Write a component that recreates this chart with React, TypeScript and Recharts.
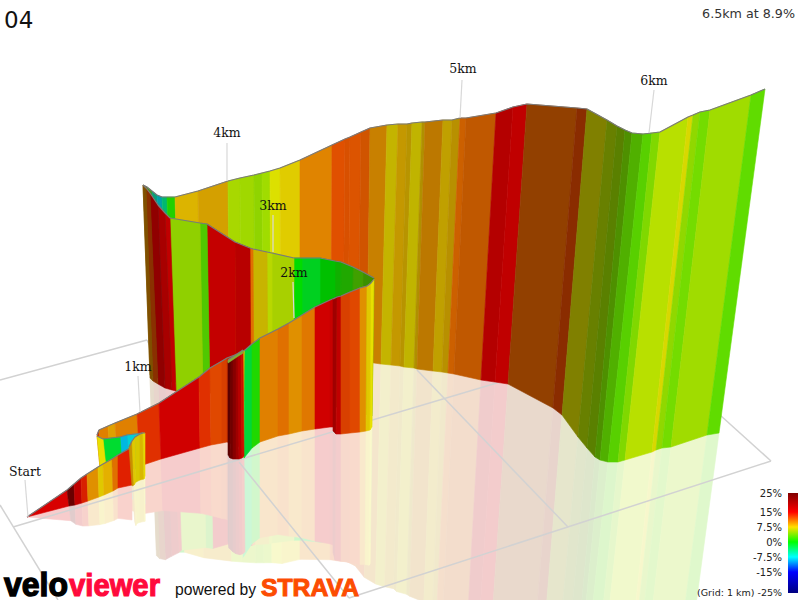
import React from "react";
import { ScatterChart, Scatter, XAxis, YAxis } from "recharts";

// The ribbon is a 3D projection, so every section is read off the picture as
// top and bottom edge points on an 800x600 plane.

const backTopX = [143, 147, 152, 157, 162, 167, 175, 198, 228, 240, 254, 262, 270, 280, 300, 332, 345, 350, 361, 370, 387, 398, 407, 412, 422, 425, 443, 452, 460, 466, 496, 513, 527, 577, 587, 607, 617, 625, 632, 643, 652, 660, 688, 693, 700, 710, 751, 765];
const backTopY = [185, 187, 191, 195, 197, 197, 197, 191, 181, 178, 175, 173, 171, 168, 160, 145, 139, 137, 132, 128, 125, 124, 124, 123, 122, 122, 120, 120, 118, 118, 113, 107, 104, 108, 109, 120, 126, 130, 133, 134, 133, 132, 117, 115, 112, 110, 95, 89];
const backBotX = [150, 153, 158, 163, 168, 172, 180, 201, 230, 241, 255, 263, 271, 281, 300, 331, 343, 348, 358, 367, 381, 391, 400, 404, 414, 417, 433, 442, 448, 454, 481, 495, 508, 553, 562, 578, 587, 595, 600, 608, 618, 625, 652, 656, 662, 671, 707, 719];
const backBotY = [375, 376, 378, 380, 381, 382, 382, 382, 379, 378, 377, 376, 375, 374, 368, 361, 359, 358, 358, 362, 364, 365, 366, 367, 368, 369, 371, 372, 373, 374, 380, 382, 384, 408, 415, 437, 448, 457, 460, 462, 462, 460, 452, 450, 448, 447, 435, 433];
const backColors = ["#8a6a00", "#40a010", "#08a078", "#00a0a8", "#00b870", "#20d000", "#dcb400", "#d4a000", "#a8d800", "#a0d800", "#90d400", "#a0dc00", "#dce000", "#e0cc00", "#e08400", "#e05000", "#d85000", "#dc5400", "#d05400", "#c88000", "#c4b400", "#c49800", "#b89400", "#c0b400", "#b09000", "#bc7800", "#c0a000", "#b89000", "#cc6000", "#c05800", "#b40000", "#c00000", "#924000", "#8a2c00", "#808000", "#688000", "#5a8000", "#4e9000", "#50b000", "#58d000", "#80d800", "#b8e000", "#d8d800", "#90d800", "#74dc00", "#a0dc00", "#60dc00"];

const hairpinTopX = [374, 363, 353, 341, 335, 320, 302, 294, 272, 267, 253, 250, 235, 207, 200, 170, 165, 158, 150, 146, 143];
const hairpinTopY = [278, 272, 267, 262, 261, 258, 258, 258, 253, 252, 249, 248, 242, 224, 223, 218, 213, 205, 193, 188, 185];
const hairpinBotX = [372, 361, 351, 340, 335, 320, 302, 294, 272, 268, 254, 251, 236, 210, 203, 176, 172, 165, 158, 153, 150];
const hairpinBotY = [416, 413, 410, 407, 407, 406, 405, 405, 404, 404, 403, 403, 398, 393, 392, 391, 390, 388, 384, 381, 378];
const hairpinColors = ["#3a9000", "#40a000", "#20a800", "#10b000", "#00c000", "#00d020", "#00dc00", "#a8d000", "#b8d800", "#c8b400", "#e07000", "#b80000", "#c40000", "#50c800", "#90d000", "#c00000", "#a80000", "#900000", "#8a3000", "#805000"];

const middleTopX = [97, 99, 108, 115, 137, 159, 199, 210, 222, 227, 240, 245, 252, 260, 278, 289, 302, 315, 330, 335];
const middleTopY = [435, 430, 426, 423, 414, 403, 377, 368, 361, 358, 353, 350, 344, 338, 329, 323, 315, 307, 300, 298];
const middleBotX = [100, 102, 111, 118, 140, 161, 200, 211, 222, 227, 240, 244, 252, 260, 278, 289, 302, 315, 330, 335];
const middleBotY = [468, 467, 467, 467, 466, 459, 448, 445, 443, 442, 447, 458, 448, 442, 436, 434, 431, 429, 427, 427];
const middleColors = ["#d03000", "#e08000", "#e0a000", "#e08000", "#e03000", "#d00000", "#e03000", "#e04800", "#d84000", "#c83000", "#e0c000", "#00d838", "#20d800", "#e08000", "#e07000", "#e09000", "#e07800", "#d00000", "#c80000"];

const nearTopX = [333, 337, 341, 350, 360, 367, 371, 374];
const nearTopY = [299, 297, 296, 292, 288, 286, 283, 279];
const nearBotX = [333, 336, 341, 350, 360, 366, 370, 372];
const nearBotY = [431, 434, 434, 433, 432, 431, 430, 427];
const nearColors = ["#a00000", "#c00000", "#d84000", "#e04800", "#e09000", "#e0c800", "#e8e000"];

const columnTopX = [228, 231, 233, 236, 238, 241, 243];
const columnTopY = [362, 360, 358, 356, 355, 354, 352];
const columnBotX = [228, 230, 233, 236, 239, 242, 244];
const columnBotY = [455, 458, 459, 459, 459, 458, 456];
const columnColors = ["#5a0000", "#700000", "#880000", "#a00000", "#b80000", "#c81000"];

const capTopX = [228, 243];
const capTopY = [360, 350];
const capBotX = [228, 243];
const capBotY = [363, 353];
const capColors = ["#80b030"];

const loopTopX = [143, 127, 120, 103, 97];
const loopTopY = [433, 435, 437, 439, 436];
const loopBotX = [144, 129, 122, 106, 100];
const loopBotY = [470, 468, 467, 467, 468];
const loopColors = ["#00d0d8", "#00b8e0", "#00dc30", "#e8e000"];

const startTopX = [27, 67, 74, 81, 87, 98, 103, 112, 118, 132];
const startTopY = [517, 490, 484, 478, 474, 467, 464, 459, 455, 447];
const startBotX = [27, 69, 75, 82, 88, 99, 104, 113, 118, 132];
const startBotY = [517, 506, 505, 503, 501, 497, 495, 491, 488, 485];
const startColors = ["#d80000", "#6a0000", "#c00000", "#d82000", "#e09000", "#e0c800", "#e4b000", "#e07000", "#e02000"];

const turnTopX = [129, 132, 135, 140, 143, 145];
const turnTopY = [447, 441, 437, 434, 433, 433];
const turnBotX = [132, 134, 136, 140, 144, 145];
const turnBotY = [486, 485, 482, 480, 479, 476];
const turnColors = ["#c89000", "#e0c800", "#d8c800", "#d8b800", "#e8d800"];

const sections = [
  [backTopX, backTopY, backBotX, backBotY, backColors],
  [hairpinTopX, hairpinTopY, hairpinBotX, hairpinBotY, hairpinColors],
  [middleTopX, middleTopY, middleBotX, middleBotY, middleColors],
  [nearTopX, nearTopY, nearBotX, nearBotY, nearColors],
  [columnTopX, columnTopY, columnBotX, columnBotY, columnColors],
  [capTopX, capTopY, capBotX, capBotY, capColors],
  [loopTopX, loopTopY, loopBotX, loopBotY, loopColors],
  [startTopX, startTopY, startBotX, startBotY, startColors],
  [turnTopX, turnTopY, turnBotX, turnBotY, turnColors],
] as [number[], number[], number[], number[], string[]][];

// grid lines on the floor: x1, y1, x2, y2
const gridX1 = [0, 147, 13, 0, 417, 239, 771, 771];
const gridY1 = [380, 340, 527, 505, 370, 462, 461, 461];
const gridX2 = [147, 152, 500, 58, 568, 349, 349, 720];
const gridY2 = [340, 350, 382, 600, 527, 598, 598, 415];

const kmLabels = ["Start", "1km", "2km", "3km", "4km", "5km", "6km"];
const kmLabelX = [25, 138, 294, 273, 227, 463, 654];
const kmLabelY = [476, 371, 277, 210, 137, 73, 85];
const stemTopX = [25, 138, 293, 273, 227, 462, 654];
const stemTopY = [480, 376, 282, 215, 143, 80, 90];
const stemBotX = [28, 140, 294, 273, 227, 460, 649];
const stemBotY = [517, 412, 318, 252, 181, 118, 133];

const legendLabels = ["25%", "15%", "7.5%", "0%", "-7.5%", "-15%", "(Grid: 1 km) -25%"];
const legendY = [493, 512, 527, 542, 557, 572, 592];
const legendStops = ["#800000", "#ff0000", "#ffe000", "#00ff00", "#00ffff", "#0000ff", "#000080"];
const legendOffsets = [0, 19, 34, 49, 64, 79, 100];

const REFLECTION = 0.92;

const noDot = () => null;

function polygon(key: string, pts: { x: number; y: number }[], fill: string, stroke = "none", extra: any = null) {
  return (
    <Scatter
      key={key}
      data={pts}
      shape={noDot}
      isAnimationActive={false}
      line={(p: any) => (
        <g>
          {extra}
          <polygon
            points={p.points.map((q: any) => `${q.x},${q.y}`).join(" ")}
            fill={fill}
            stroke={stroke}
            strokeWidth={0.6}
          />
        </g>
      )}
    />
  );
}

function polyline(key: string, pts: { x: number; y: number }[], stroke: string, width: number) {
  return (
    <Scatter
      key={key}
      data={pts}
      shape={noDot}
      isAnimationActive={false}
      line={(p: any) => (
        <polyline
          points={p.points.map((q: any) => `${q.x},${q.y}`).join(" ")}
          fill="none"
          stroke={stroke}
          strokeWidth={width}
          strokeLinejoin="round"
        />
      )}
    />
  );
}

function label(key: string, x: number, y: number, text: any, style: any) {
  return (
    <Scatter
      key={key}
      data={[{ x, y }]}
      isAnimationActive={false}
      shape={(p: any) => (
        <text x={p.cx} y={p.cy} {...style}>
          {text}
        </text>
      )}
    />
  );
}

export default function App() {
  const reflections: any[] = [];
  const ribbon: any[] = [];

  sections.forEach(([topX, topY, botX, botY, colors], s) => {
    colors.forEach((color, i) => {
      const mirror = (j: number) => ({
        x: botX[j] - (topX[j] - botX[j]) * REFLECTION,
        y: botY[j] + (botY[j] - topY[j]) * REFLECTION,
      });
      reflections.push(
        polygon(
          `m${s}-${i}`,
          [
            { x: botX[i], y: botY[i] },
            { x: botX[i + 1], y: botY[i + 1] },
            mirror(i + 1),
            mirror(i),
          ],
          color,
          color
        )
      );
      ribbon.push(
        polygon(
          `r${s}-${i}`,
          [
            { x: topX[i], y: topY[i] },
            { x: topX[i + 1], y: topY[i + 1] },
            { x: botX[i + 1], y: botY[i + 1] },
            { x: botX[i], y: botY[i] },
          ],
          color,
          color
        )
      );
    });
    ribbon.push(
      polyline(`e${s}`, topX.map((x, i) => ({ x, y: topY[i] })), "#7a7a7a", 1.2)
    );
  });

  return (
    <div style={{ position: "absolute", left: 0, top: 0, width: 800, height: 600, background: "#fff" }}>
      <ScatterChart width={800} height={600} margin={{ top: 0, right: 0, bottom: 0, left: 0 }}>
        <XAxis type="number" dataKey="x" domain={[0, 800]} hide allowDataOverflow />
        <YAxis type="number" dataKey="y" domain={[0, 600]} reversed hide allowDataOverflow />

        {reflections}
        {polygon(
          "fade",
          [
            { x: 0, y: 0 },
            { x: 800, y: 0 },
            { x: 800, y: 600 },
            { x: 0, y: 600 },
          ],
          "rgba(255,255,255,0.8)"
        )}

        {gridX1.map((x, i) =>
          polyline(`g${i}`, [{ x, y: gridY1[i] }, { x: gridX2[i], y: gridY2[i] }], "#d2d2d2", 1.5)
        )}

        {ribbon}

        {stemTopX.map((x, i) =>
          polyline(`s${i}`, [{ x, y: stemTopY[i] }, { x: stemBotX[i], y: stemBotY[i] }], "#d8d8d8", 1.2)
        )}
        {kmLabels.map((t, i) =>
          label(`k${i}`, kmLabelX[i], kmLabelY[i], t, {
            fontFamily: "DejaVu Serif",
            fontSize: 12.5,
            textAnchor: "middle",
            fill: "#111",
          })
        )}

        {label("title", 4, 28, "04", { fontFamily: "DejaVu Sans", fontSize: 23, fill: "#111" })}
        {label("best", 795, 18, "6.5km at 8.9%", {
          fontFamily: "DejaVu Sans",
          fontSize: 12.7,
          textAnchor: "end",
          fill: "#333",
        })}

        {polygon(
          "bar",
          [
            { x: 788, y: 493 },
            { x: 798, y: 493 },
            { x: 798, y: 593 },
            { x: 788, y: 593 },
          ],
          "url(#gradeBar)",
          "none",
          <defs>
            <linearGradient id="gradeBar" x1="0" y1="0" x2="0" y2="1">
              {legendStops.map((c, i) => (
                <stop key={c} offset={`${legendOffsets[i]}%`} stopColor={c} />
              ))}
            </linearGradient>
          </defs>
        )}
        {legendLabels.map((t, i) =>
          label(`l${i}`, 782, legendY[i] + 4, t, {
            fontFamily: "DejaVu Sans",
            fontSize: t.length > 6 ? 9.5 : 10,
            textAnchor: "end",
            fill: "#222",
          })
        )}

        {label("velo", 4, 596, "velo", {
          fontFamily: "Liberation Sans",
          fontSize: 34,
          fontWeight: 700,
          fill: "#000",
          stroke: "#000",
          strokeWidth: 1.4,
          textLength: 64,
          lengthAdjust: "spacingAndGlyphs",
        })}
        {label("viewer", 69, 596, "viewer", {
          fontFamily: "Liberation Sans",
          fontSize: 32,
          fontWeight: 700,
          fill: "#ff0a3c",
          stroke: "#ff0a3c",
          strokeWidth: 1.2,
          textLength: 91,
          lengthAdjust: "spacingAndGlyphs",
        })}
        {label("powered", 175, 595, "powered by", {
          fontFamily: "Liberation Sans",
          fontSize: 17,
          fill: "#111",
          textLength: 81,
          lengthAdjust: "spacingAndGlyphs",
        })}
        {label("strava", 261, 596, "STRAVA", {
          fontFamily: "Liberation Sans",
          fontSize: 24,
          fontWeight: 700,
          fill: "#fc4c02",
          stroke: "#fc4c02",
          strokeWidth: 1,
          textLength: 98,
          lengthAdjust: "spacingAndGlyphs",
        })}
      </ScatterChart>
    </div>
  );
}
